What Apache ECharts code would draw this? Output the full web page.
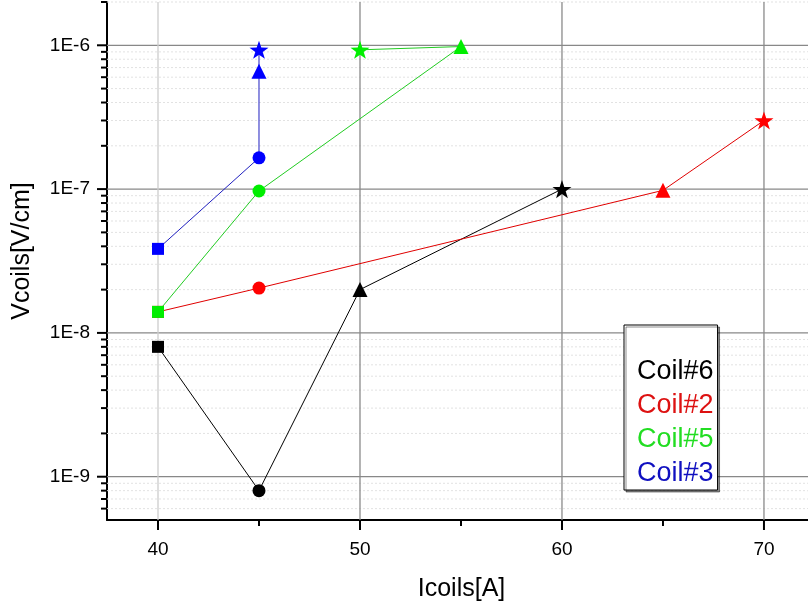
<!DOCTYPE html>
<html><head><meta charset="utf-8">
<script src="https://cdn.jsdelivr.net/npm/echarts@6/dist/echarts.min.js"></script>
<style>html,body{margin:0;padding:0;background:#fff}#c{width:808px;height:605px}</style>
</head><body><div id="c"></div>
<script>
// ---- data ----
const seriesNames = ['Coil#6', 'Coil#2', 'Coil#5', 'Coil#3'];
const coil6X = [40, 45, 50, 60];
const coil6Y = [8.0e-9, 8.0e-10, 2.0e-8, 1.0e-7];
const coil2X = [40, 45, 65, 70];
const coil2Y = [1.4e-8, 2.05e-8, 9.8e-8, 3.0e-7];
const coil5X = [40, 45, 55, 50];
const coil5Y = [1.4e-8, 9.7e-8, 9.8e-7, 9.3e-7];
const coil3X = [40, 45, 45, 45];
const coil3Y = [3.84e-8, 1.65e-7, 6.6e-7, 9.3e-7];
const pointMarkers = ['rect', 'circle', 'triangle', 'star'];

const xMajorTicks = [40, 50, 60, 70];
const xMinorTicks = [45, 55, 65];
const yMajorTicks = [1e-9, 1e-8, 1e-7, 1e-6];
const yMinorMultipliers = [2, 3, 4, 5, 6, 7, 8, 9];
const yDecades = [1e-10, 1e-9, 1e-8, 1e-7, 1e-6];

const X_MIN = 37.475, X_MAX = 72.18;
const Y_MIN = 5e-10, Y_MAX = 2e-6;

// ---- build ----
const FONT = 'Liberation Sans, Arial, sans-serif';
const colors = ['#000000', '#ff0000', '#00ee00', '#0000ff'];
const lineColors = ['#000000', '#e00000', '#22cc22', '#2020c0'];
const legendColors = ['#000000', '#dd1111', '#22dd22', '#1010c0'];
const STAR = 'path://M50,0 L61.8,35.1 L98.9,35.5 L69.1,57.6 L80.3,93 L50,71.5 L19.7,93 L30.9,57.6 L1.1,35.5 L38.2,35.1 Z';
const symMap = {rect: 'rect', circle: 'circle', triangle: 'triangle', star: STAR};
const symSize = {rect: 12, circle: 13, triangle: 15, star: 19};

const yMinor = [];
yDecades.forEach(d => yMinorMultipliers.forEach(m => {
  const v = +(d * m).toPrecision(3);
  if (v > Y_MIN && v < Y_MAX * 1.0001) yMinor.push(v);
}));

function mk(xs, ys) {
  return xs.map((x, i) => ({
    value: [x, ys[i]],
    symbol: symMap[pointMarkers[i]],
    symbolSize: symSize[pointMarkers[i]]
  }));
}
const allX = [coil6X, coil2X, coil5X, coil3X];
const allY = [coil6Y, coil2Y, coil5Y, coil3Y];

const dataSeries = seriesNames.map((n, k) => ({
  name: n, type: 'line', z: 5,
  data: mk(allX[k], allY[k]),
  lineStyle: {color: lineColors[k], width: 1},
  itemStyle: {color: colors[k]},
  showSymbol: true, symbolKeepAspect: true, animation: false
}));

// gridlines: [x, y, kind]  kind: 0 horizontal minor, 1 horizontal major, 2 vertical major
const gridData = [
  ...yMinor.map(v => [X_MIN, v, 0]),
  ...yMajorTicks.map(v => [X_MIN, v, 1]),
  ...xMajorTicks.map(v => [v, Y_MIN, 2])
];
const gridSeries = {
  name: 'grid', type: 'custom', clip: false, silent: true, z: 1, animation: false,
  data: gridData,
  renderItem: function (params, api) {
    const kind = api.value(2);
    if (kind === 2) {
      const a = api.coord([api.value(0), Y_MIN]);
      const b = api.coord([api.value(0), Y_MAX]);
      const light = api.value(0) === 40;
      return {type: 'line', shape: {x1: a[0], y1: a[1], x2: b[0], y2: b[1]},
        style: {stroke: light ? '#cccccc' : '#8a8a8a', lineWidth: 1.3}};
    }
    const a = api.coord([X_MIN, api.value(1)]);
    const b = api.coord([X_MAX, api.value(1)]);
    if (kind === 1) {
      return {type: 'line', shape: {x1: a[0], y1: a[1], x2: b[0], y2: b[1]},
        style: {stroke: '#888888', lineWidth: 1.3}};
    }
    return {type: 'line', shape: {x1: a[0], y1: a[1], x2: b[0], y2: b[1]},
      style: {stroke: '#e2e2e2', lineWidth: 1, lineDash: [2, 2]}};
  }
};

const tickData = [
  ...yMajorTicks.map(v => [X_MIN, v, 0, 1]),
  ...yMinor.map(v => [X_MIN, v, 0, 0]),
  ...xMajorTicks.map(v => [v, Y_MIN, 1, 1]),
  ...xMinorTicks.map(v => [v, Y_MIN, 1, 0])
];
const tickSeries = {
  name: 'ticks', type: 'custom', clip: false, silent: true, z: 10, animation: false,
  data: tickData,
  renderItem: function (params, api) {
    const p = api.coord([api.value(0), api.value(1)]);
    const len = api.value(3) ? 10 : 6;
    const shape = api.value(2) === 0
      ? {x1: p[0] - len, y1: p[1], x2: p[0], y2: p[1]}
      : {x1: p[0], y1: p[1], x2: p[0], y2: p[1] + len};
    return {type: 'line', shape: shape, style: {stroke: '#000', lineWidth: 2}};
  }
};

const chart = echarts.init(document.getElementById('c'), null, {renderer: 'canvas'});
chart.setOption({
  backgroundColor: '#ffffff',
  animation: false,
  grid: {left: 107, right: 0, top: 2, bottom: 85, containLabel: false, outerBoundsMode: 'none'},
  xAxis: {
    type: 'value', min: X_MIN, max: X_MAX, splitNumber: 3,
    name: 'Icoils[A]', nameLocation: 'middle', nameGap: 57,
    nameTextStyle: {fontFamily: FONT, fontSize: 25, color: '#000', padding: [0, 0, 0, 8]},
    axisLine: {show: true, onZero: false, lineStyle: {color: '#000', width: 2}},
    axisTick: {show: false},
    splitLine: {show: false},
    axisLabel: {fontFamily: FONT, fontSize: 19, color: '#000', margin: 20, showMinLabel: false, showMaxLabel: false}
  },
  yAxis: {
    type: 'log', logBase: 10, min: Y_MIN, max: Y_MAX,
    name: 'Vcoils[V/cm]', nameLocation: 'middle', nameGap: 72, nameRotate: 90,
    nameTextStyle: {fontFamily: FONT, fontSize: 25, color: '#000', padding: [0, 0, 0, 20]},
    axisLine: {show: true, lineStyle: {color: '#000', width: 2}},
    axisTick: {show: false},
    splitLine: {show: false},
    axisLabel: {
      fontFamily: FONT, fontSize: 19, color: '#000', margin: 17,
      showMinLabel: false, showMaxLabel: false,
      formatter: v => '1E' + Math.round(Math.log10(v))
    }
  },
  legend: {
    orient: 'vertical', left: 624, top: 325,
    icon: 'none', itemWidth: 0, itemHeight: 0, itemGap: 7,
    padding: [33, 4, 3, 8],
    backgroundColor: '#fff', borderColor: '#000', borderWidth: 1,
    shadowColor: 'rgba(0,0,0,0.45)', shadowOffsetX: 2, shadowOffsetY: 2, shadowBlur: 0,
    textStyle: {fontFamily: FONT, fontSize: 27},
    data: seriesNames.map((n, k) => ({name: n, textStyle: {color: legendColors[k]}})),
    selectedMode: false
  },
  series: [gridSeries, ...dataSeries, tickSeries]
});
</script></body></html>
